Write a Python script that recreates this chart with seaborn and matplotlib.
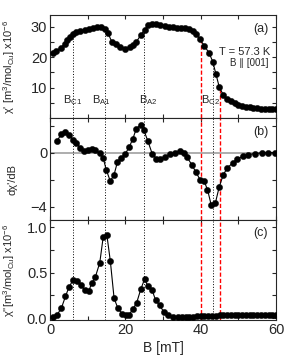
import numpy as np
import seaborn as sns
import matplotlib.pyplot as plt
from matplotlib.ticker import MultipleLocator, FixedLocator, FormatStrFormatter

# data
a_B = [0.8, 1.7, 2.8, 3.9, 4.6, 5.2, 6.1, 7.0, 8.0, 9.2,
       10.3, 11.4, 12.5, 13.4, 14.5, 15.4, 16.4, 17.6, 18.7, 20.0,
       21.1, 22.0, 22.9, 24.1, 25.1, 26.0, 27.1, 28.2, 29.3, 30.4,
       31.5, 32.6, 33.7, 34.8, 35.9, 37.0, 37.9, 38.8, 39.8, 41.0,
       42.2, 43.2, 44.0, 44.9, 46.0, 47.0, 48.0, 49.0, 50.0, 51.0,
       52.0, 53.0, 54.0, 55.0, 56.0, 57.0, 58.0, 59.0, 60.0]
a_chi = [21.2, 22.1, 23.0, 24.3, 25.6, 26.7, 27.5, 28.2, 28.6, 28.9,
         29.1, 29.4, 29.7, 29.9, 29.2, 27.8, 25.0, 24.2, 23.4, 22.7,
         23.2, 23.8, 25.0, 27.2, 28.9, 30.5, 31.0, 30.8, 30.4, 30.1,
         29.9, 29.8, 29.6, 29.6, 29.5, 29.2, 28.6, 27.6, 25.8, 23.6,
         21.4, 18.5, 14.6, 10.3, 7.5, 6.3, 5.5, 4.9, 4.4, 4.0,
         3.7, 3.5, 3.4, 3.2, 3.1, 3.0, 3.0, 3.0, 2.9]

b_B = [1.9, 3.0, 4.1, 5.0, 6.1, 7.0, 8.0, 9.0, 10.1, 11.1,
       12.0, 13.2, 14.1, 14.9, 16.0, 17.0, 17.9, 18.9, 20.0, 21.0,
       22.0, 22.9, 24.1, 24.9, 26.0, 27.1, 28.2, 29.3, 30.5, 31.8,
       33.2, 34.5, 35.5, 36.4, 37.6, 38.7, 39.8, 40.9, 41.8, 42.8,
       43.9, 44.9, 46.0, 47.1, 48.5, 49.7, 51.1, 52.6, 54.4, 56.2,
       57.9, 59.7]
b_dchi = [0.89, 1.38, 1.53, 1.34, 0.94, 0.72, 0.35, 0.10, 0.22, 0.30,
          0.20, -0.05, -0.39, -1.26, -2.12, -1.63, -0.69, -0.39, -0.07, 0.40,
          1.04, 1.78, 2.07, 1.66, 0.84, -0.07, -0.44, -0.50, -0.30, -0.10,
          -0.02, 0.10, -0.02, -0.34, -0.89, -1.43, -2.00, -2.12, -2.74, -3.90,
          -3.73, -2.56, -1.63, -1.13, -0.76, -0.47, -0.27, -0.15, -0.07, -0.02,
          0.0, 0.0]

c_B = [0.8, 1.9, 3.0, 4.1, 5.0, 6.1, 7.2, 8.1, 9.2, 10.3,
       11.1, 12.0, 13.2, 14.1, 15.1, 16.0, 17.0, 18.0, 19.1, 20.1,
       21.0, 22.0, 23.0, 24.1, 25.1, 26.0, 27.1, 28.0, 29.1, 30.2,
       31.4, 32.7, 34.0, 35.0, 36.0, 37.0, 38.0, 39.0, 40.0, 41.0,
       42.0, 43.0, 44.0, 45.0, 46.0, 47.0, 48.0, 49.0, 50.0, 51.0,
       52.0, 53.0, 54.0, 55.0, 56.0, 57.0, 58.0, 59.0, 60.0]
c_chi2 = [0.01, 0.04, 0.11, 0.24, 0.34, 0.42, 0.41, 0.37, 0.31, 0.30,
          0.39, 0.45, 0.61, 0.89, 0.91, 0.63, 0.22, 0.11, 0.05, 0.03,
          0.04, 0.10, 0.17, 0.32, 0.43, 0.35, 0.31, 0.20, 0.14, 0.07,
          0.03, 0.01, 0.01, 0.01, 0.01, 0.01, 0.01, 0.02, 0.02, 0.02,
          0.02, 0.02, 0.02, 0.03, 0.03, 0.03, 0.04, 0.04, 0.03, 0.03,
          0.03, 0.03, 0.04, 0.04, 0.03, 0.03, 0.03, 0.03, 0.03]

# characteristic fields
crit_names = [r"B$_{\rm C1}$", r"B$_{\rm A1}$", r"B$_{\rm A2}$", r"B$_{\rm C2}$"]
crit_B = [6.0, 14.6, 24.9, 43.3]
label_B = [6.1, 13.7, 26.0, 42.7]
red_B = [40.0, 45.0]

sns.set_style("ticks")
plt.rcParams['font.family'] = ['Liberation Sans', 'DejaVu Sans']
plt.rcParams['mathtext.fontset'] = 'custom'
plt.rcParams['mathtext.rm'] = 'Liberation Sans'
plt.rcParams['mathtext.it'] = 'Liberation Sans:italic'
plt.rcParams['axes.linewidth'] = 0.8

fig = plt.figure(figsize=(2.91, 3.59), dpi=100)
ax_a = fig.add_axes([0.172, 0.6713, 0.7766, 0.2869])
ax_b = fig.add_axes([0.172, 0.3872, 0.7766, 0.2841])
ax_c = fig.add_axes([0.172, 0.1086, 0.7766, 0.2786])

line_kw = dict(color='black', marker='o', markersize=4.5, markeredgecolor='black',
               markeredgewidth=0.3, linewidth=0.8, zorder=3)

sns.lineplot(x=a_B, y=a_chi, ax=ax_a, **line_kw)
sns.lineplot(x=b_B, y=b_dchi, ax=ax_b, **line_kw)
sns.lineplot(x=c_B, y=c_chi2, ax=ax_c, **line_kw)

# vertical markers
dot = (0, (1, 1.8))
ax_a.vlines(crit_B, 0, np.interp(crit_B, a_B, a_chi), colors='black',
            linestyles=dot, linewidth=0.7, zorder=1)
ax_a.vlines(red_B, 0, np.interp(red_B, a_B, a_chi), colors='red',
            linestyles=(0, (3, 1.5)), linewidth=1.0, zorder=2)
for ax in (ax_b, ax_c):
    for x in crit_B:
        ax.axvline(x, color='black', linestyle=dot, linewidth=0.7, zorder=1)
    for x in red_B:
        ax.axvline(x, color='red', linestyle=(0, (3, 1.5)), linewidth=1.0, zorder=2)
ax_b.axhline(0, color='#a0a0a0', linewidth=1.2, zorder=0)

for name, x in zip(crit_names, label_B):
    ax_a.text(x, 4.9, name, ha='center', va='baseline', fontsize=8)

# axes settings
for ax in (ax_a, ax_b, ax_c):
    ax.set_xlim(0, 60)
    ax.xaxis.set_major_locator(MultipleLocator(20))
    ax.xaxis.set_minor_locator(MultipleLocator(10))
    ax.tick_params(which='both', direction='in', top=True, right=True,
                   length=3, width=0.8, labelsize=10.5, pad=2)
    ax.set_xlabel('')

ax_a.tick_params(labelbottom=False)
ax_b.tick_params(labelbottom=False)

ax_a.set_ylim(0, 33.8)
ax_a.yaxis.set_major_locator(FixedLocator([10, 20, 30]))
ax_a.yaxis.set_minor_locator(FixedLocator([5, 15, 25]))

ax_b.set_ylim(-5.0, 2.57)
ax_b.yaxis.set_major_locator(FixedLocator([-4, 0]))
ax_b.yaxis.set_minor_locator(FixedLocator([-2, 2]))

ax_c.set_ylim(-0.02, 1.08)
ax_c.yaxis.set_major_locator(MultipleLocator(0.5))
ax_c.yaxis.set_minor_locator(MultipleLocator(0.25))
ax_c.yaxis.set_major_formatter(FormatStrFormatter('%.1f'))

ax_a.set_ylabel("χ' [m$^3$/mol$_{\\rm Cu}$] x10$^{-6}$", fontsize=8)
ax_b.set_ylabel("dχ'/dB", fontsize=8)
ax_c.set_ylabel("χ''[m$^3$/mol$_{\\rm Cu}$] x10$^{-6}$", fontsize=8)
for ax in (ax_a, ax_b, ax_c):
    ax.yaxis.set_label_coords(-0.145, 0.5)
ax_b.yaxis.set_label_coords(-0.145, 0.4)
ax_c.set_xlabel('B [mT]', fontsize=10, labelpad=3)

ax_a.text(0.965, 0.86, '(a)', transform=ax_a.transAxes, ha='right', va='center', fontsize=9)
ax_a.text(0.975, 0.64, 'T = 57.3 K', transform=ax_a.transAxes, ha='right', va='center', fontsize=8)
ax_a.text(0.965, 0.53, 'B ∥ [001]', transform=ax_a.transAxes, ha='right', va='center', fontsize=7)
ax_b.text(0.965, 0.86, '(b)', transform=ax_b.transAxes, ha='right', va='center', fontsize=9)
ax_c.text(0.965, 0.87, '(c)', transform=ax_c.transAxes, ha='right', va='center', fontsize=9)

fig.savefig('out.png', dpi=100)
